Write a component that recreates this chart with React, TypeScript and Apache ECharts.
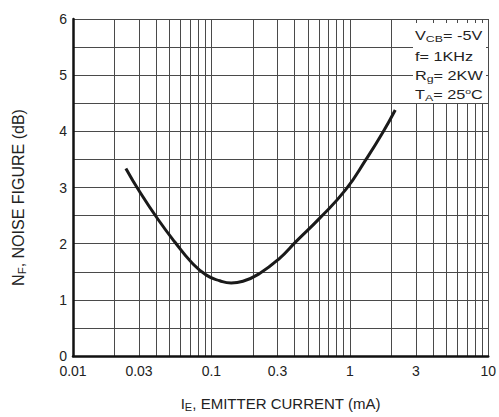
import React, { useEffect, useRef } from "react";
import * as echarts from "echarts";

// Emitter current (mA) and noise figure (dB)
const currentMA = [0.0241, 0.0304, 0.0412, 0.0544, 0.0717, 0.092, 0.115, 0.139, 0.169, 0.223, 0.311, 0.41, 0.604, 0.94, 1.31, 1.73, 2.13];
const noiseDB = [3.34, 2.92, 2.43, 2.03, 1.67, 1.44, 1.34, 1.3, 1.33, 1.47, 1.74, 2.04, 2.45, 2.97, 3.5, 3.98, 4.38];

// grid (tick) values on the log axis and labelled values
const xGridValues = [
  0.01, 0.02, 0.03, 0.04, 0.05, 0.06, 0.07, 0.08, 0.09,
  0.1, 0.2, 0.3, 0.4, 0.5, 0.6, 0.7, 0.8, 0.9,
  1, 2, 3, 4, 5, 6, 7, 8, 9, 10,
];
const xLabelValues = [0.01, 0.03, 0.1, 0.3, 1, 3, 10];
const xLabelTexts = ["0.01", "0.03", "0.1", "0.3", "1", "3", "10"];

const legendLines = [
  "{a|V}{s|CB}{a|= -5V}",
  "{a|f= 1KHz}",
  "{a|R}{s|g}{a|= 2KW}",
  "{a|T}{s|A}{a|= 25}{p|o}{a|C}",
];

const FONT = "Arial, 'Liberation Sans', sans-serif";

export default function App() {
  const ref = useRef<HTMLDivElement>(null);

  useEffect(() => {
    if (!ref.current) return;
    const chart = echarts.init(ref.current, null, { renderer: "svg" });

    const legendRich = {
      a: { fontSize: 12.5, fontFamily: FONT, fill: "#222" },
      s: { fontSize: 9.5, fontFamily: FONT, fill: "#222", padding: [6, 0, 0, 0] },
      p: { fontSize: 8, fontFamily: FONT, fill: "#222", padding: [0, 0, 7, 0] },
    };
    const legendY = [36, 56.5, 76, 95];

    chart.setOption({
      animation: false,
      backgroundColor: "#fff",
      grid: { left: 73, right: 10, top: 19, bottom: 59, containLabel: false },
      xAxis: {
        type: "log",
        logBase: 10,
        min: 0.01,
        max: 10,
        name: "{n|I}{s|E}{n|, EMITTER CURRENT (mA)}",
        nameLocation: "middle",
        nameGap: 38,
        nameTextStyle: {
          rich: {
            n: { fontSize: 15, fontFamily: FONT, color: "#222" },
            s: { fontSize: 11, fontFamily: FONT, color: "#222", padding: [7, 0, 0, 0] },
          },
        },
        axisLine: { show: true, onZero: false, lineStyle: { color: "#111", width: 2.5 } },
        axisTick: { show: false, customValues: xGridValues },
        axisLabel: {
          customValues: xLabelValues,
          fontSize: 14,
          fontFamily: FONT,
          color: "#222",
          margin: 8,
          formatter: (v: number) => {
            const i = xLabelValues.findIndex((x) => Math.abs(x - v) / x < 1e-6);
            return i >= 0 ? xLabelTexts[i] : "";
          },
        },
        splitLine: { show: true, lineStyle: { color: "#4a4a4a", width: 1 } },
      },
      yAxis: {
        type: "value",
        min: 0,
        max: 6,
        interval: 0.5,
        name: "{n|N}{s|F}{n|, NOISE FIGURE (dB)}",
        nameLocation: "middle",
        nameGap: 45,
        nameTextStyle: {
          padding: [0, 20, 0, 0],
          rich: {
            n: { fontSize: 16, fontFamily: FONT, color: "#222" },
            s: { fontSize: 11.5, fontFamily: FONT, color: "#222", padding: [7, 0, 0, 0] },
          },
        },
        axisLine: { show: true, lineStyle: { color: "#111", width: 2.5 } },
        axisTick: { show: false },
        axisLabel: {
          fontSize: 14,
          fontFamily: FONT,
          color: "#222",
          margin: 6,
          formatter: (v: number) => (Math.abs(v - Math.round(v)) < 1e-6 ? String(Math.round(v)) : ""),
        },
        splitLine: { show: true, lineStyle: { color: "#4a4a4a", width: 1 } },
      },
      series: [
        {
          type: "line",
          data: currentMA.map((x, i) => [x, noiseDB[i]]),
          smooth: 0.5,
          symbol: "none",
          lineStyle: { color: "#1a1a1a", width: 3 },
          z: 5,
        },
      ],
      graphic: [
        {
          type: "rect",
          left: 413,
          top: 23,
          shape: { width: 73, height: 80 },
          style: { fill: "#fff" },
          z: 10,
        },
        ...legendLines.map((t, i) => ({
          type: "text",
          x: 415,
          y: legendY[i],
          scaleX: 1.3,
          z: 11,
          style: {
            text: t,
            rich: legendRich,
            verticalAlign: "middle",
            align: "left",
            fontFamily: FONT,
          },
        })),
      ],
    });

    return () => chart.dispose();
  }, []);

  return (
    <div
      ref={ref}
      style={{ position: "absolute", left: 0, top: 0, width: 499, height: 417 }}
    />
  );
}
